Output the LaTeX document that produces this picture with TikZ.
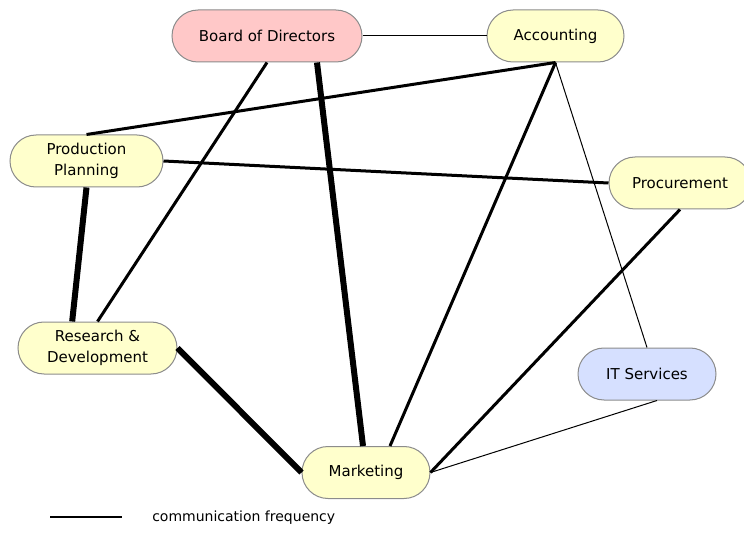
\documentclass[tikz,border=0pt]{standalone}
\usepackage{fontspec}
\setmainfont{DejaVu Sans}
\usepackage{tikz}
\definecolor{boardpink}{RGB}{255,200,200}
\definecolor{deptyellow}{RGB}{255,255,204}
\definecolor{itblue}{RGB}{214,224,255}
\tikzstyle{unit}=[
        draw=black!45,
        line width=0.75pt,
        fill=deptyellow,
        rounded corners=19.5pt,
        minimum height=39pt,
        align=center,
        inner sep=0pt,
        font=\fontsize{11.25}{15.5}\selectfont
]
\tikzstyle{rare}=[
        line width=0.75pt
]
\tikzstyle{often}=[
        line width=2.25pt
]
\tikzstyle{constant}=[
        line width=4.5pt
]

\begin{document}
\begin{tikzpicture}[x=0.75pt,y=-0.75pt]
                        \useasboundingbox (0,0) rectangle (744,542);

                        \node[unit,fill=boardpink,minimum width=142.5pt] (bod) at (267,36) {Board of Directors};
                        \node[unit,minimum width=102.75pt] (acc) at (555.5,36) {Accounting};
                        \node[unit,minimum width=114.75pt] (pp) at (86.5,161) {Production\\Planning};
                        \node[unit,minimum width=106.5pt] (proc) at (680,183) {Procurement};
                        \node[unit,minimum width=119.25pt] (rnd) at (97.5,348) {Research \&\\Development};
                        \node[unit,fill=itblue,minimum width=103.5pt] (it) at (647,374) {IT Services};
                        \node[unit,minimum width=96pt] (mkt) at (366,472.5) {Marketing};

                        \draw[rare] (bod.east) -- (acc.west);
                        \draw[rare] (acc.south) -- (it.north);
                        \draw[rare] ([xshift=7.5pt]it.south) -- (mkt.east);

                        \draw[often] (bod.south) -- (rnd.north);
                        \draw[often] (acc.south) -- (pp.north);
                        \draw[often] (acc.south) -- ([xshift=18pt]mkt.north);
                        \draw[often] (pp.east) -- (proc.west);
                        \draw[often] (proc.south) -- (mkt.east);

                        \draw[constant] ([xshift=37.5pt]bod.south) -- ([xshift=-2.25pt]mkt.north);
                        \draw[constant] (pp.south) -- ([xshift=-19pt]rnd.north);
                        \draw[constant] (rnd.east) -- (mkt.west);

                        % legend
                        \coordinate (keyl) at (50,517);
                        \coordinate (keyr) at (122,517);
                        \draw[line width=1.5pt] (keyl) -- (keyr);
                        \node[anchor=west,inner sep=0pt,font=\fontsize{10.5}{12}\selectfont] (keytext) at (152,518) {communication frequency};

                    \end{tikzpicture}
\end{document}
